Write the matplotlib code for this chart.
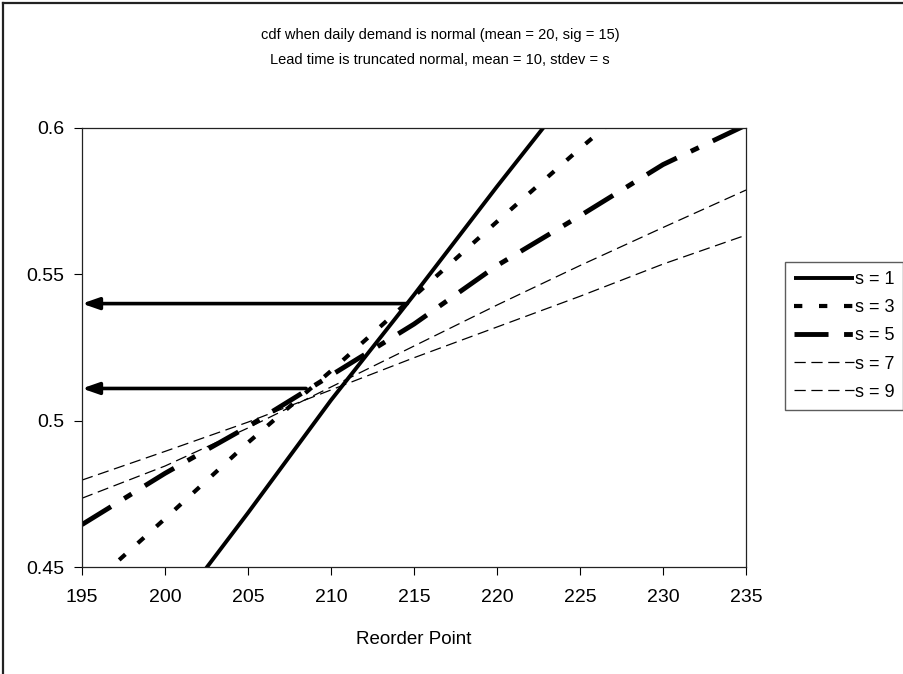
import matplotlib
matplotlib.use("Agg")
import matplotlib.pyplot as plt
from matplotlib.lines import Line2D

plt.rcParams['font.family'] = ['Liberation Sans', 'DejaVu Sans']

reorder_point = [195, 200, 205, 210, 215, 220, 225, 230, 235]
cdf_s1 = [0.393, 0.431, 0.4685, 0.507, 0.543, 0.580, 0.616, 0.650, 0.680]
cdf_s3 = [0.441, 0.4665, 0.4925, 0.517, 0.5425, 0.568, 0.593, 0.617, 0.640]
cdf_s5 = [0.4645, 0.482, 0.498, 0.5155, 0.533, 0.553, 0.570, 0.5875, 0.601]
cdf_s7 = [0.4735, 0.4845, 0.4975, 0.5115, 0.5255, 0.5395, 0.553, 0.566, 0.5788]
cdf_s9 = [0.4797, 0.4895, 0.4995, 0.5105, 0.5215, 0.532, 0.5425, 0.5535, 0.5634]
labels = ["s = 1", "s = 3", "s = 5", "s = 7", "s = 9"]

arrow_levels = [0.54, 0.511]
arrow_from_x = [214.6, 208.5]

xticks = [195, 200, 205, 210, 215, 220, 225, 230, 235]
yticks = [0.45, 0.5, 0.55, 0.6]
ytick_labels = ["0.45", "0.5", "0.55", "0.6"]

title_lines = ["cdf when daily demand is normal (mean = 20, sig = 15)",
               "Lead time is truncated normal, mean = 10, stdev = s"]

fig = plt.figure(figsize=(9.04, 6.74), dpi=100)
ax = fig.add_axes([82/904, 1-567/674, (746-82)/904, (567-128)/674])

styles = [
    dict(lw=2.8, ls='-'),
    dict(lw=3.0, dashes=(2.0, 4.0)),
    dict(lw=3.5, dashes=(7, 3.2, 1.8, 3.2)),
    dict(lw=0.9, dashes=(9, 4.5)),
    dict(lw=0.9, dashes=(9, 4.5)),
]
series = [cdf_s1, cdf_s3, cdf_s5, cdf_s7, cdf_s9]
handles = []
for vals, st, lab in zip(series, styles, labels):
    ln, = ax.plot(reorder_point, vals, color='black', label=lab,
                  solid_capstyle='butt', dash_capstyle='butt', **st)
    handles.append(ln)

for lvl, x0 in zip(arrow_levels, arrow_from_x):
    ax.annotate("", xy=(xticks[0], lvl), xytext=(x0, lvl),
                arrowprops=dict(arrowstyle='-|>,head_length=1.0,head_width=0.35',
                                color='black', lw=2.6, shrinkA=0, shrinkB=0),
                annotation_clip=False)

ax.set_xlim(xticks[0], xticks[-1])
ax.set_ylim(yticks[0], yticks[-1])
ax.set_xticks(xticks)
ax.set_xticklabels([str(t) for t in xticks])
ax.set_yticks(yticks)
ax.set_yticklabels(ytick_labels)
ax.tick_params(direction='out', length=6, width=0.8, labelsize=14, colors='black')
ax.tick_params(axis='y', pad=7)
ax.tick_params(axis='x', pad=10)
for sp in ax.spines.values():
    sp.set_linewidth(0.9)
    sp.set_color('#222222')
ax.set_xlabel("Reorder Point", fontsize=13.5, labelpad=18)

fig.text(440/904, 1-35/674, title_lines[0], ha='center', va='center', fontsize=10.5)
fig.text(440/904, 1-60/674, title_lines[1], ha='center', va='center', fontsize=10.5)

leg = fig.legend(handles=handles, labels=labels, loc='upper left',
                 bbox_to_anchor=(785/904, 1-262/674), frameon=True, fancybox=False,
                 edgecolor='#333333', fontsize=13, handlelength=3.3,
                 handletextpad=0.05, labelspacing=0.62, borderpad=0.5,
                 borderaxespad=0)
leg.get_frame().set_linewidth(1.0)

fig.add_artist(Line2D([3/904, 3/904], [0, 1-3/674], transform=fig.transFigure,
                      color='#222222', lw=1.6))
fig.add_artist(Line2D([3/904, 1], [1-3/674, 1-3/674], transform=fig.transFigure,
                      color='#222222', lw=1.6))

fig.savefig("out.png", dpi=100)
